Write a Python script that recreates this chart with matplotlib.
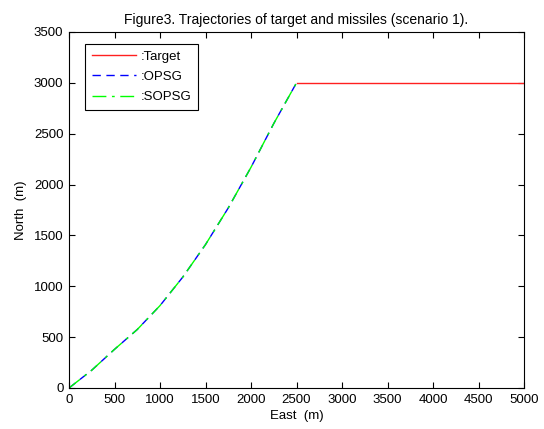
import numpy as np
import matplotlib
matplotlib.use("Agg")
import matplotlib.pyplot as plt

# Trajectory data
target_east = [2500, 5000]
target_north = [3000, 3000]

missile_east = [0, 250, 500, 750, 1000, 1250, 1500, 1750, 2000, 2250, 2500]
opsg_north = [0, 175, 380, 575, 810, 1090, 1410, 1770, 2170, 2600, 3000]
sopsg_north = [0, 175, 380, 575, 810, 1090, 1410, 1770, 2170, 2600, 3000]

xticks = [0, 500, 1000, 1500, 2000, 2500, 3000, 3500, 4000, 4500, 5000]
yticks = [0, 500, 1000, 1500, 2000, 2500, 3000, 3500]

plt.rcParams['font.family'] = ['Liberation Sans', 'DejaVu Sans']
plt.rcParams['font.size'] = 9.5

fig = plt.figure(figsize=(5.44, 4.29), dpi=100)
ax = fig.add_axes([69 / 544, 41 / 429, 455 / 544, 356 / 429])

ax.plot(target_east, target_north, color='#ff2020', lw=1.0, label=':Target')
ax.plot(missile_east, opsg_north, color='#0000ff', lw=1.0, ls=(0, (6, 4)), label=':OPSG')
ax.plot(missile_east, sopsg_north, color='#00ff00', lw=1.0, ls=(0, (10, 4, 2, 4)), label=':SOPSG')

ax.set_xlim(0, 5000)
ax.set_ylim(0, 3500)
ax.set_xticks(xticks)
ax.set_yticks(yticks)
ax.tick_params(direction='in', top=True, right=True, length=4, width=0.8, pad=4)
for s in ax.spines.values():
    s.set_linewidth(0.8)

ax.set_xlabel('East  (m)', labelpad=3)
ax.set_ylabel('North  (m)', labelpad=5)
ax.set_title('Figure3. Trajectories of target and missiles (scenario 1).', fontsize=10, pad=6)

leg = ax.legend(loc='upper left', bbox_to_anchor=(16 / 455, 1 - 12 / 356), fancybox=False,
                edgecolor='black', framealpha=1, handlelength=3.4, handletextpad=0.3,
                borderpad=0.5, labelspacing=0.6, fontsize=9.5, borderaxespad=0)
leg.get_frame().set_linewidth(0.8)

plt.savefig('out.png', dpi=100)
